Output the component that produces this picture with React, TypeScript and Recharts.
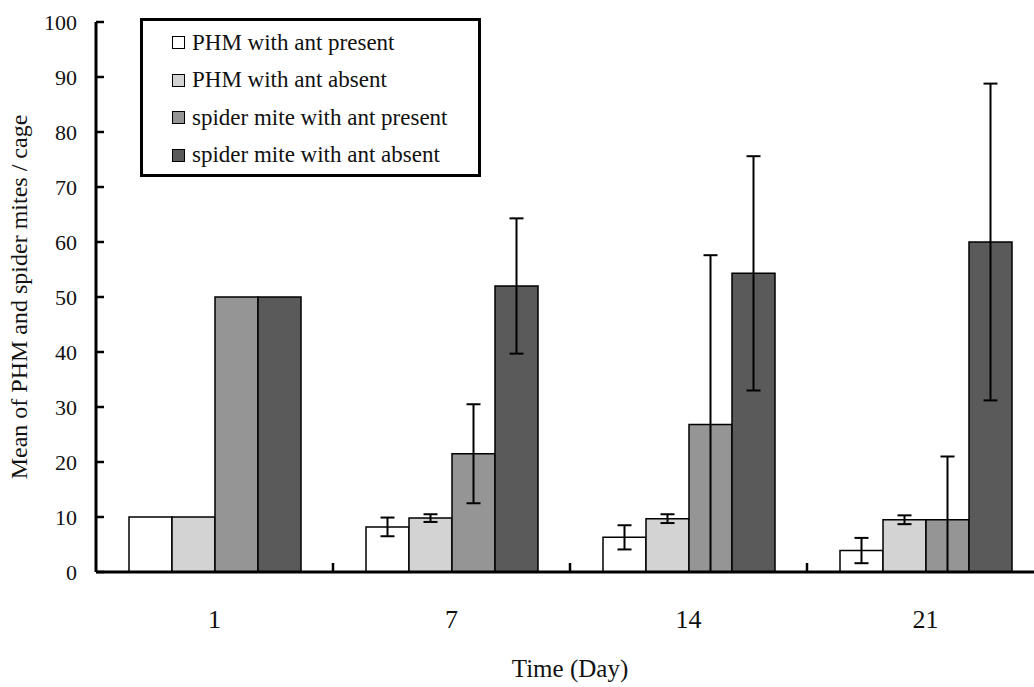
import React from 'react';
import { BarChart, Bar, XAxis, YAxis, ErrorBar, Legend } from 'recharts';

const days = ['1', '7', '14', '21'];
const yTicks = [0, 10, 20, 30, 40, 50, 60, 70, 80, 90, 100];

// means per cage
const phmAntPresent = [10, 8.2, 6.3, 3.9];
const phmAntAbsent = [10, 9.8, 9.7, 9.5];
const miteAntPresent = [50, 21.5, 26.8, 9.5];
const miteAntAbsent = [50, 52.0, 54.3, 60.0];

// standard errors (day 1 was the release count, no SE)
const phmAntPresentSE = [null, 1.7, 2.2, 2.3];
const phmAntAbsentSE = [null, 0.7, 0.8, 0.8];
const miteAntPresentSE = [null, 9.0, 30.8, 11.5];
const miteAntAbsentSE = [null, 12.3, 21.3, 28.8];

const series = [
  { key: 'phmP', name: 'PHM with ant present', fill: '#ffffff', values: phmAntPresent, se: phmAntPresentSE },
  { key: 'phmA', name: 'PHM with ant absent', fill: '#d3d3d3', values: phmAntAbsent, se: phmAntAbsentSE },
  { key: 'miteP', name: 'spider mite with ant present', fill: '#959595', values: miteAntPresent, se: miteAntPresentSE },
  { key: 'miteA', name: 'spider mite with ant absent', fill: '#5a5a5a', values: miteAntAbsent, se: miteAntAbsentSE },
];

// error bars are cut off at zero
const rows = days.map((day, i) => {
  const row: Record<string, any> = { day };
  series.forEach((s) => {
    const v = s.values[i];
    const e = s.se[i];
    row[s.key] = v;
    row[s.key + 'Err'] = e == null ? null : [Math.min(e, v), e];
  });
  return row;
});

const FONT = "'Liberation Serif', 'Times New Roman', serif";

const YTick = (props: any) => {
  const { x, y, payload } = props;
  return (
    <g>
      <line x1={x} x2={x + 8} y1={y} y2={y} stroke="#000" strokeWidth={2.5} />
      <text x={x - 19} y={y} dy="0.35em" textAnchor="end" fontFamily={FONT} fontSize={22} fill="#111">
        {payload.value}
      </text>
    </g>
  );
};

const XTick = (props: any) => {
  const { x, y, payload, index } = props;
  const half = payload.offset ?? 118.5;
  return (
    <g>
      {index > 0 && (
        <line x1={x - half} x2={x - half} y1={y} y2={y - 9} stroke="#000" strokeWidth={2.5} />
      )}
      <text x={x} y={y + 56} textAnchor="middle" fontFamily={FONT} fontSize={26} fill="#111">
        {payload.value}
      </text>
    </g>
  );
};

// boxed legend in the upper left, kept in series order
const LegendBox = () => (
  <div
    style={{
      width: 335,
      height: 150,
      border: '3px solid #000',
      background: '#fff',
      boxSizing: 'content-box',
      fontFamily: FONT,
      fontSize: 23,
      color: '#111',
      paddingTop: 3,
    }}
  >
    {series.map((s) => (
      <div key={s.key} style={{ display: 'flex', alignItems: 'center', height: 37.5, paddingLeft: 29 }}>
        <span
          style={{
            display: 'inline-block',
            width: 11,
            height: 11,
            border: '1.5px solid #000',
            background: s.fill,
            marginRight: 7,
          }}
        />
        <span style={{ whiteSpace: 'nowrap' }}>{s.name}</span>
      </div>
    ))}
  </div>
);

export default function App() {
  return (
    <div
      style={{
        position: 'fixed',
        left: 0,
        top: 0,
        width: 1034,
        height: 687,
        overflow: 'hidden',
        background: '#fff',
      }}
    >
      <BarChart
        width={1060}
        height={687}
        data={rows}
        margin={{ top: 22, right: 16, left: 0, bottom: 15 }}
        barCategoryGap={33}
        barGap={0}
      >
        <XAxis
          dataKey="day"
          height={100}
          axisLine={{ stroke: '#000', strokeWidth: 3 }}
          tickLine={false}
          tickSize={0}
          tickMargin={0}
          interval={0}
          tick={<XTick />}
          label={({ viewBox }: any) => (
            <text
              x={viewBox.x + viewBox.width / 2}
              y={viewBox.y + 105}
              textAnchor="middle"
              fontFamily={FONT}
              fontSize={25}
              fill="#111"
            >
              Time (Day)
            </text>
          )}
        />
        <YAxis
          width={96}
          domain={[0, 100]}
          ticks={yTicks}
          interval={0}
          axisLine={{ stroke: '#000', strokeWidth: 3 }}
          tickLine={false}
          tickSize={0}
          tickMargin={0}
          tick={<YTick />}
          label={({ viewBox }: any) => {
            const cx = 19;
            const cy = viewBox.y + viewBox.height / 2;
            return (
              <text
                x={cx}
                y={cy}
                transform={`rotate(-90, ${cx}, ${cy})`}
                textAnchor="middle"
                dominantBaseline="central"
                fontFamily={FONT}
                fontSize={24}
                fill="#111"
              >
                Mean of PHM and spider mites / cage
              </text>
            );
          }}
        />
        <Legend
          layout="vertical"
          align="center"
          verticalAlign="middle"
          content={<LegendBox />}
          wrapperStyle={{ left: 140, top: 18, width: 'auto' }}
        />
        {series.map((s) => (
          <Bar
            key={s.key}
            dataKey={s.key}
            name={s.name}
            fill={s.fill}
            stroke="#000"
            strokeWidth={1.5}
            isAnimationActive={false}
          >
            <ErrorBar dataKey={s.key + 'Err'} width={7} stroke="#000" strokeWidth={2} direction="y" />
          </Bar>
        ))}
      </BarChart>
    </div>
  );
}
